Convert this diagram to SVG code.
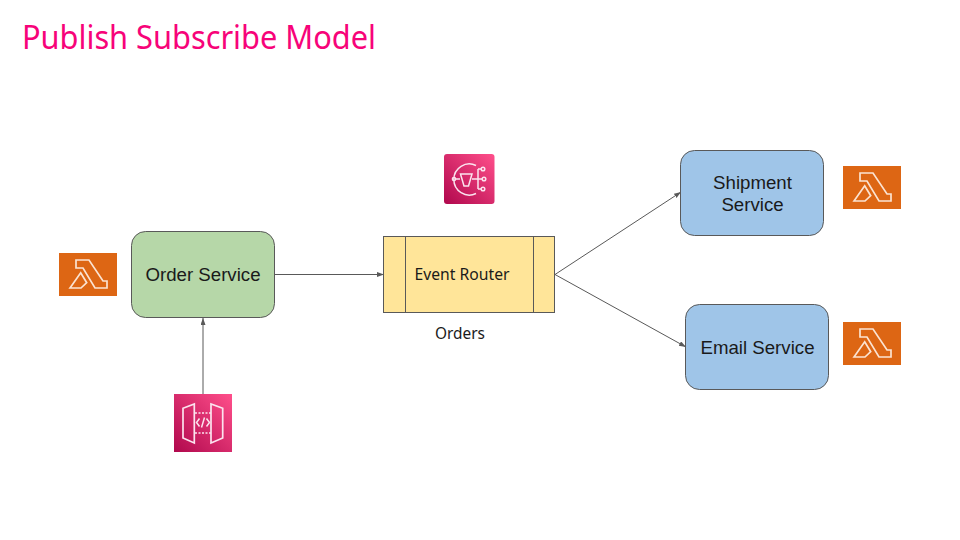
<svg xmlns="http://www.w3.org/2000/svg" width="960" height="540" viewBox="0 0 960 540">
<style>
.node{stroke:#595959;stroke-width:1}
.label{font-family:"Liberation Sans",Arial,sans-serif;font-size:18.67px;fill:#1a1a1a;text-anchor:middle}
.ub{font-family:"Noto Sans","Open Sans",sans-serif;fill:#1a1a1a}
.conn{fill:none;stroke:#595959;stroke-width:1;marker-end:url(#arrow)}
.glyph{fill:none;stroke:#fbe3d2;stroke-width:1.7;stroke-linejoin:miter}
.w{fill:none;stroke:#fbe3ee;stroke-width:1.5}
</style>
<defs>
<marker id="arrow" markerUnits="userSpaceOnUse" markerWidth="8" markerHeight="6" refX="7" refY="2.500" orient="auto"><path d="M0 0L7 2.500L0 5Z" fill="#595959"/></marker>
<linearGradient id="pink" x1="0" y1="1" x2="1" y2="0"><stop offset="0" stop-color="#b0084d"/><stop offset="1" stop-color="#ff4f8b"/></linearGradient>
<g id="lambda">
<rect width="58" height="43" fill="#dd6614"/>
<path class="glyph" d="M17 7H30L44 28H48V35H36L24 15H17Z"/>
<path class="glyph" d="M11 35L21.700 19.700L27.700 29.700L22 35Z"/>
</g>
</defs>
<rect width="960" height="540" fill="#ffffff"/>
<text id="title" x="22" y="49" font-family="'Noto Sans','Open Sans',sans-serif" font-size="32" fill="#f70379" textLength="354" lengthAdjust="spacingAndGlyphs">Publish Subscribe Model</text>
<g id="connectors">
<path class="conn" d="M275 274.500H384"/>
<path class="conn" d="M203 394V318"/>
<path class="conn" d="M555 274.500L681 192"/>
<path class="conn" d="M555 274.500L686 347"/>
</g>
<g id="order-service">
<rect class="node" x="131.500" y="231.500" width="143" height="86" rx="14" fill="#b6d7a8"/>
<text class="label" x="203" y="281">Order Service</text>
</g>
<g id="event-router">
<rect class="node" x="383.500" y="236.500" width="171" height="76" fill="#ffe599"/>
<path class="node" fill="none" d="M405.500 236.500V312.500M533.500 236.500V312.500"/>
<text class="ub" x="414.500" y="280" font-size="15.500" textLength="95" lengthAdjust="spacingAndGlyphs">Event Router</text>
</g>
<g id="orders">
<text class="ub" x="435" y="339" font-size="15.500" textLength="50" lengthAdjust="spacingAndGlyphs">Orders</text>
</g>
<g id="shipment-service">
<rect class="node" x="680.500" y="150.500" width="143" height="85" rx="14" fill="#9fc5e8"/>
<text class="label" x="752.500" y="189">Shipment</text>
<text class="label" x="752.500" y="211">Service</text>
</g>
<g id="email-service">
<rect class="node" x="685.500" y="304.500" width="143" height="85" rx="14" fill="#9fc5e8"/>
<text class="label" x="757.500" y="354">Email Service</text>
</g>
<g id="lambda-order"><use href="#lambda" x="59" y="253"/></g>
<g id="lambda-shipment"><use href="#lambda" x="843" y="166"/></g>
<g id="lambda-email"><use href="#lambda" x="843" y="322"/></g>
<g id="sns-icon">
<rect x="444" y="154" width="50.500" height="50" rx="3" fill="url(#pink)"/>
<path class="w" d="M476 165.500A15.500 15.500 0 1 0 476 193.500"/>
<path class="w" d="M456 179H460M472 179H482M478 169V189M478 169H481M478 189H481"/>
<path class="w" d="M460.500 174H472L468.500 186H464Z"/>
<circle class="w" cx="454" cy="179" r="1.600"/>
<circle class="w" cx="483" cy="169" r="1.800"/>
<circle class="w" cx="484" cy="179" r="1.800"/>
<circle class="w" cx="483" cy="189" r="1.800"/>
</g>
<g id="api-gateway-icon">
<rect x="174" y="394" width="58" height="58" fill="url(#pink)"/>
<path class="w" stroke-width="1.700" style="stroke-width:1.700" d="M183 408.300L194.300 404V443L183 438Z"/>
<path class="w" style="stroke-width:1.700" d="M222.700 408.300L211 404V443L222.700 438Z"/>
<path class="w" stroke-dasharray="2 1.500" d="M195 413H211M195 433H211"/>
<path class="w" d="M199.500 418.500L196.500 422.500L199.500 426.500M206.500 418.500L209.500 422.500L206.500 426.500M204.500 417.500L201.500 427.500"/>
</g>
</svg>
